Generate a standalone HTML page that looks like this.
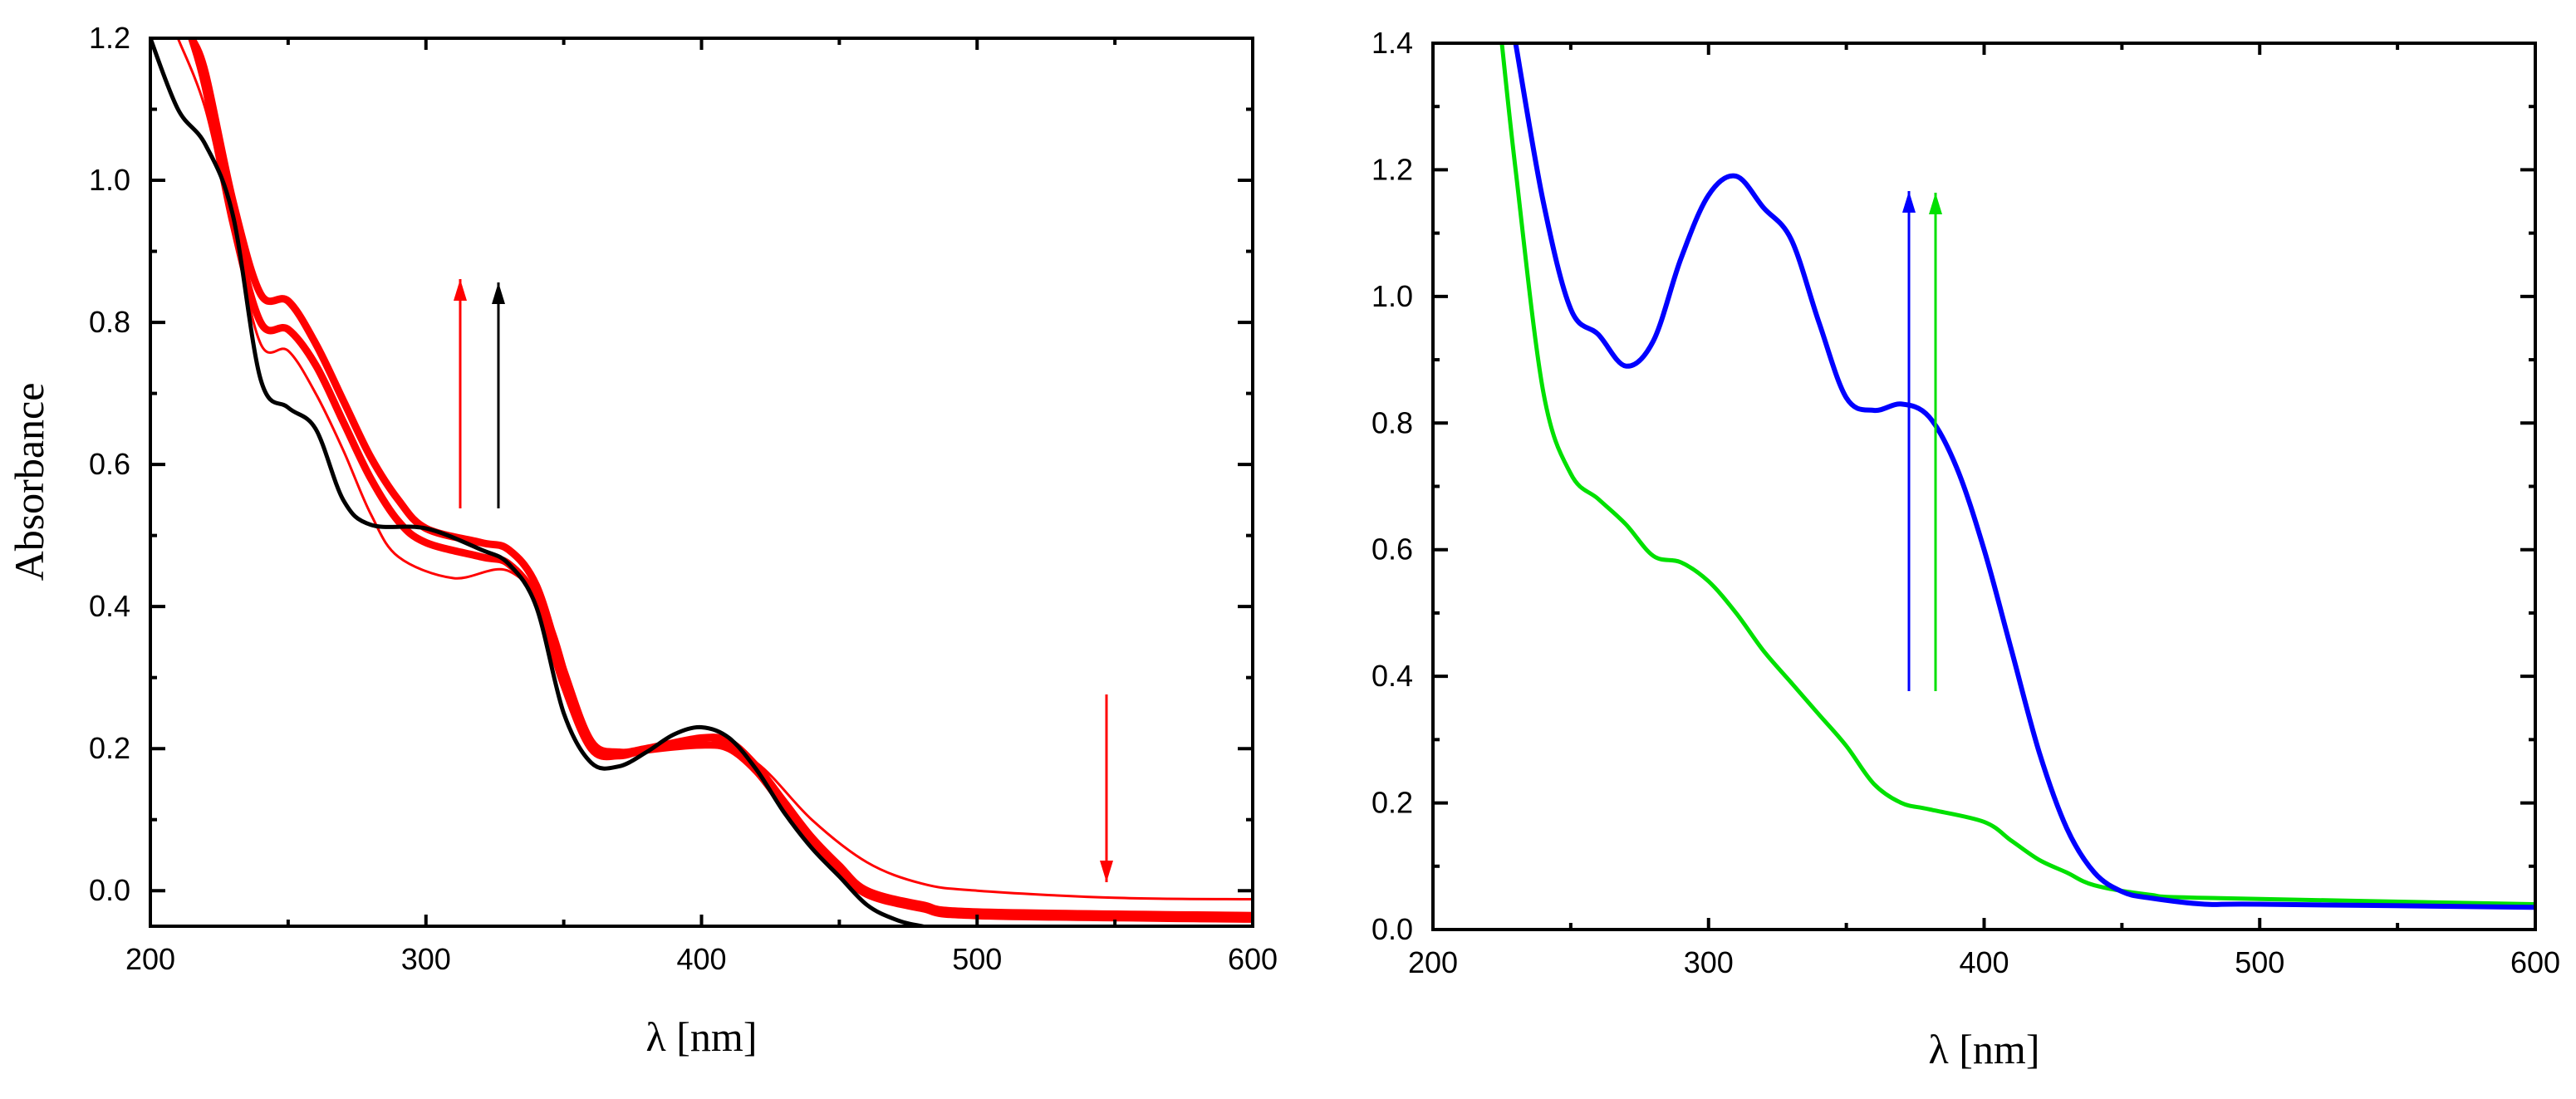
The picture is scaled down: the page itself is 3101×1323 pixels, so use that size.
<!DOCTYPE html>
<html><head><meta charset="utf-8"><style>
body{margin:0;background:#fff}
svg text{font-family:"Liberation Sans",sans-serif;fill:#000}
svg text.serif{font-family:"Liberation Serif",serif}
</style></head><body>
<svg id="fig" width="3101" height="1318" viewBox="0 0 3101 1318" xmlns="http://www.w3.org/2000/svg">
<defs>
<clipPath id="cl"><rect x="181" y="46" width="1327" height="1069"/></clipPath>
<clipPath id="cr"><rect x="1725" y="52" width="1327" height="1067"/></clipPath>
</defs>
<g id="left"></g>
<g id="right"></g>
</svg>
<script>
// ---- data ----
const blackX=[200,210,220,230,240,250,260,270,280,300,320,330,340,350,360,370,380,390,400,410,420,430,440,450,460,470,480,500,600];
const blackY=[1.2,1.1,1.05,0.95,0.72,0.68,0.65,0.55,0.515,0.51,0.48,0.46,0.40,0.25,0.18,0.175,0.195,0.22,0.23,0.215,0.17,0.11,0.06,0.02,-0.02,-0.04,-0.05,-0.06,-0.06];
const redAX=[215,220,230,240,250,260,270,280,290,300,320,330,340,350,360,370,380,400,410,420,430,440,450,460,480,500,600];
const redAY=[1.2,1.15,0.97,0.84,0.83,0.77,0.69,0.61,0.55,0.51,0.49,0.48,0.43,0.31,0.21,0.195,0.2,0.215,0.21,0.175,0.125,0.075,0.035,0.0,-0.02,-0.03,-0.035];
const redBY=[1.2,1.13,0.94,0.80,0.79,0.74,0.66,0.58,0.52,0.49,0.47,0.46,0.41,0.29,0.20,0.19,0.198,0.205,0.2,0.168,0.118,0.07,0.03,-0.005,-0.025,-0.035,-0.04];
const redCX=[210,220,230,240,250,260,270,280,290,310,330,345,360,380,400,420,440,460,480,500,550,600];
const redCY=[1.2,1.1,0.93,0.77,0.76,0.70,0.62,0.53,0.47,0.44,0.45,0.38,0.21,0.2,0.215,0.18,0.1,0.04,0.01,0.0,-0.01,-0.012];
const blueX=[230,240,250,260,270,280,290,300,310,320,330,340,350,360,370,380,390,400,410,420,430,440,450,460,480,500,600];
const blueY=[1.4,1.15,0.98,0.94,0.89,0.93,1.06,1.16,1.19,1.14,1.09,0.96,0.84,0.82,0.83,0.81,0.73,0.6,0.44,0.28,0.16,0.09,0.06,0.05,0.04,0.04,0.035];
const greenX=[225,230,240,250,260,270,280,290,300,310,320,330,340,350,360,370,380,400,410,420,430,440,460,480,600];
const greenY=[1.4,1.2,0.85,0.72,0.68,0.64,0.59,0.58,0.55,0.5,0.44,0.39,0.34,0.29,0.23,0.2,0.19,0.17,0.14,0.11,0.09,0.07,0.055,0.05,0.04];
const xTicks=[200,300,400,500,600];
const leftYTicks=[0.0,0.2,0.4,0.6,0.8,1.0,1.2];
const rightYTicks=[0.0,0.2,0.4,0.6,0.8,1.0,1.2,1.4];

const NS="http://www.w3.org/2000/svg";
function mk(parent,tag,attrs,name,txt){const e=document.createElementNS(NS,tag);for(const k in attrs)e.setAttribute(k,attrs[k]);


if(txt!==undefined)e.textContent=txt;parent.appendChild(e);return e;}

function smooth(P){let d='M'+P[0][0].toFixed(1)+','+P[0][1].toFixed(1);
 for(let i=0;i<P.length-1;i++){const p0=P[i-1]||P[i],p1=P[i],p2=P[i+1],p3=P[i+2]||p2;
  const c1=[p1[0]+(p2[0]-p0[0])/6,p1[1]+(p2[1]-p0[1])/6],c2=[p2[0]-(p3[0]-p1[0])/6,p2[1]-(p3[1]-p1[1])/6];
  d+=` C${c1[0].toFixed(1)},${c1[1].toFixed(1)} ${c2[0].toFixed(1)},${c2[1].toFixed(1)} ${p2[0].toFixed(1)},${p2[1].toFixed(1)}`;}
 return d;}

function panel(g,L,T,R,B,ymin,ymax,yt,clip,series,ylabelOn,xlabY){
 const sx=v=>L+(v-200)/(400)*(R-L), sy=v=>B-(v-ymin)/(ymax-ymin)*(B-T);
 const sg=mk(g,'g',{'clip-path':'url(#'+clip+')'},'series-group');
 series.forEach(s=>{const d=smooth(s.x.map((v,i)=>[sx(v),sy(s.y[i])]));
  mk(sg,'path',{d:d,fill:'none',stroke:s.c,'stroke-width':s.w,'stroke-linejoin':'round'},s.n);});
 mk(g,'rect',{x:L,y:T,width:R-L,height:B-T,fill:'none',stroke:'#000','stroke-width':4},'plot-frame');
 for(let v=200;v<=600;v+=50){const x=sx(v),len=v%100?8:14;
  mk(g,'line',{x1:x,y1:B,x2:x,y2:B-len,stroke:'#000','stroke-width':4},'x-tick');
  mk(g,'line',{x1:x,y1:T,x2:x,y2:T+len,stroke:'#000','stroke-width':4},'x-tick-top');}
 xTicks.forEach(v=>mk(g,'text',{x:sx(v),y:B+52,'font-size':36,'text-anchor':'middle'},'x-tick-label',String(v)));
 for(let v=ymin<0?0:ymin;v<=ymax+1e-9;v+=0.1){const y=sy(v),len=Math.round(v*10)%2?8:18;
  mk(g,'line',{x1:L,y1:y,x2:L+len,y2:y,stroke:'#000','stroke-width':4},'y-tick');
  mk(g,'line',{x1:R,y1:y,x2:R-len,y2:y,stroke:'#000','stroke-width':4},'y-tick-right');}
 yt.forEach(v=>mk(g,'text',{x:L-24,y:sy(v)+12,'font-size':36,'text-anchor':'end'},'y-tick-label',v.toFixed(1)));
 mk(g,'text',{x:(L+R)/2,y:xlabY,'font-size':50,'text-anchor':'middle','class':'serif'},'x-axis-title','λ [nm]');
 if(ylabelOn){mk(g,'text',{x:0,y:0,'font-size':50,'text-anchor':'middle','class':'serif',transform:'translate(52,580) rotate(-90)'},'y-axis-title','Absorbance');}
}
const gl=document.getElementById('left'), gr=document.getElementById('right');
panel(gl,181,46,1508,1115,-0.05,1.2,leftYTicks,'cl',[
 {x:redCX,y:redCY,c:'#ff0000',w:3,n:'red-trace-thin'},
 {x:redAX,y:redAY,c:'#ff0000',w:9,n:'red-trace-a'},
 {x:redAX,y:redBY,c:'#ff0000',w:9,n:'red-trace-b'},
 {x:blackX,y:blackY,c:'#000',w:5,n:'black-trace'}],true,1265);
panel(gr,1725,52,3052,1119,0,1.4,rightYTicks,'cr',[
 {x:greenX,y:greenY,c:'#00e000',w:5,n:'green-trace'},
 {x:blueX,y:blueY,c:'#0000ff',w:6,n:'blue-trace'}],false,1280);
function arrow(g,x,y1,y2,c,n){mk(g,'line',{x1:x,y1:y1,x2:x,y2:y2,stroke:c,'stroke-width':3},n);
 const dir=y2<y1?1:-1;mk(g,'polygon',{points:`${x},${y2} ${x-8},${y2+dir*26} ${x+8},${y2+dir*26}`,fill:c},n+'-head');}
arrow(gl,554,612,336,'#ff0000','red-up-arrow');
arrow(gl,600,612,340,'#000','black-up-arrow');
arrow(gl,1332,836,1062,'#ff0000','red-down-arrow');
arrow(gr,2298,832,230,'#0000ff','blue-up-arrow');
arrow(gr,2330,832,232,'#00e000','green-up-arrow');
</script>
</body></html>
